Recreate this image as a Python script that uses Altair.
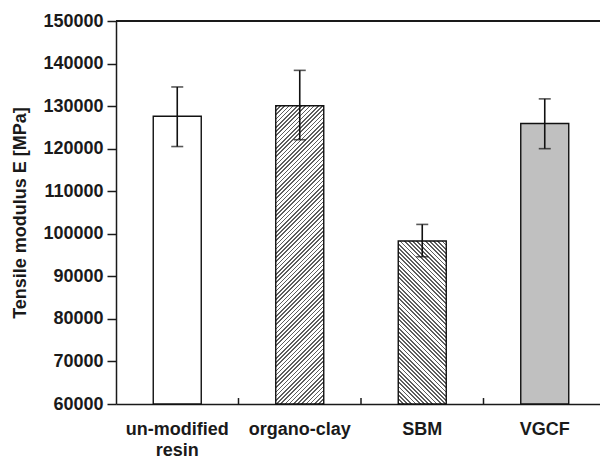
import altair as alt
import pandas as pd

categories = ["un-modified resin", "organo-clay", "SBM", "VGCF"]
modulus = [127600, 130100, 98300, 125900]
err_low = [120500, 122100, 94600, 120000]
err_high = [134500, 138400, 102200, 131700]

df = pd.DataFrame({"cat": categories, "val": modulus, "lo": err_low, "hi": err_high})

W, H = 484, 383
YMIN, YMAX = 60000, 150000
BAR_W = 48
FONT = "Liberation Sans"


def stripes(val, direction, period=4.2, frac=0.42, line="#5e5e5e", bg="#ffffff"):
    w = BAR_W
    h = (val - YMIN) / (YMAX - YMIN) * H
    L = w + h
    k = L / (w * w + h * h)
    dx, dy = k * w, k * h
    stops = []
    i = 0
    while i * period < L:
        o0 = i * period / L
        o1 = min(1.0, (i * period + frac * period) / L)
        o2 = min(1.0, (i + 1) * period / L)
        stops += [
            {"offset": o0, "color": line},
            {"offset": o1, "color": line},
            {"offset": o1, "color": bg},
            {"offset": o2, "color": bg},
        ]
        i += 1
    if direction == "up":
        g = {"gradient": "linear", "x1": 0, "y1": 0, "x2": dx, "y2": dy, "stops": stops}
    else:
        g = {"gradient": "linear", "x1": 0, "y1": 1, "x2": dx, "y2": 1 - dy, "stops": stops}
    return g


xscale = alt.Scale(domain=categories, range=[0, 490], paddingInner=0, paddingOuter=0)
yscale = alt.Scale(domain=[YMIN, YMAX], nice=False, zero=False)

x_enc = alt.X(
    "cat:N",
    scale=xscale,
    sort=categories,
    axis=alt.Axis(
        title=None,
        ticks=False,
        labelAngle=0,
        labelFont=FONT,
        labelFontSize=18,
        labelFontWeight="bold",
        labelColor="#1a1a1a",
        labelPadding=16,
        labelLineHeight=21,
        labelExpr="datum.label == 'un-modified resin' ? ['un-modified', 'resin'] : datum.label",
        domainColor="#1a1a1a",
        domainWidth=1.5,
    ),
)
y_enc = alt.Y(
    "val:Q",
    scale=yscale,
    axis=alt.Axis(
        title="Tensile modulus E [MPa]",
        values=list(range(60000, 150001, 10000)),
        format="d",
        grid=False,
        tickSize=9,
        tickColor="#1a1a1a",
        tickWidth=1.5,
        labelPadding=4,
        labelFont=FONT,
        labelFontSize=18,
        labelFontWeight="bold",
        labelColor="#1a1a1a",
        titleFont=FONT,
        titleFontSize=18,
        titleFontWeight="bold",
        titleColor="#1a1a1a",
        titlePadding=13,
        domainColor="#1a1a1a",
        domainWidth=1.5,
    ),
)

base = alt.Chart(df)

fills = {
    "un-modified resin": "#ffffff",
    "organo-clay": stripes(modulus[1], "up"),
    "SBM": stripes(modulus[2], "down"),
    "VGCF": "#c0c0c0",
}

layers = []
for i, c in enumerate(categories):
    b = (
        base.transform_filter(alt.datum.cat == c)
        .mark_bar(size=BAR_W, fill=fills[c], stroke="#111111", strokeWidth=1.4)
        .encode(x=x_enc, y=y_enc, y2=alt.datum(YMIN))
    )
    layers.append(b)

err_rule = base.mark_rule(color="#111111", strokeWidth=1.6).encode(
    x=alt.X("cat:N", scale=xscale, sort=categories),
    y=alt.Y("lo:Q", scale=yscale),
    y2="hi:Q",
)
cap_lo = base.mark_tick(color="#111111", size=12, thickness=1.6).encode(
    x=alt.X("cat:N", scale=xscale, sort=categories),
    y=alt.Y("lo:Q", scale=yscale),
)
cap_hi = base.mark_tick(color="#111111", size=12, thickness=1.6).encode(
    x=alt.X("cat:N", scale=xscale, sort=categories),
    y=alt.Y("hi:Q", scale=yscale),
)

# small inward ticks at category boundaries on the x axis
xticks = (
    base.transform_filter(alt.datum.cat != "VGCF")
    .mark_rule(color="#1a1a1a", strokeWidth=1.5)
    .encode(
        x=alt.X("cat:N", scale=xscale, sort=categories, bandPosition=1),
        y=alt.datum(YMIN),
        y2=alt.datum(YMIN + 1400),
    )
)

# top frame line
top = base.mark_rule(color="#1a1a1a", strokeWidth=1.5).encode(
    y=alt.datum(YMAX), x=alt.value(0), x2=alt.value(W)
)

chart = (
    alt.layer(*layers, err_rule, cap_lo, cap_hi, xticks, top)
    .properties(
        width=W,
        height=H,
        autosize=alt.AutoSizeParams(type="none"),
        padding={"left": 116, "top": 21, "right": 0, "bottom": 55},
        background="white",
    )
    .configure_view(stroke=None)
)

chart.save("out.html", embed_options={"renderer": "svg", "actions": False})
